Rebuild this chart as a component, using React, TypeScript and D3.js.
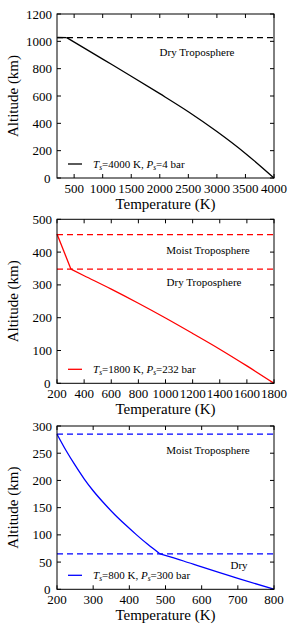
import React from 'react';
import * as d3 from 'd3';

// panel 1: Ts=4000 K (moist part, then dry part)
const hotMoist: [number, number][] = [[205, 1028], [370, 1027]];
const hotDry: [number, number][] = [
  [370, 1027], [700, 945], [1000, 870], [1500, 745], [2000, 617],
  [2500, 485], [3000, 340], [3500, 180], [4000, 0],
];
const hotXTicks = [500, 1000, 1500, 2000, 2500, 3000, 3500, 4000];
const hotYTicks = [0, 200, 400, 600, 800, 1000, 1200];
const hotLevels = [1027];

// panel 2: Ts=1800 K
const warmMoist: [number, number][] = [[200, 455], [303, 348]];
const warmDry: [number, number][] = [
  [303, 348], [400, 328], [600, 287], [800, 244], [1000, 199],
  [1200, 152], [1400, 104], [1600, 53], [1800, 0],
];
const warmXTicks = [200, 400, 600, 800, 1000, 1200, 1400, 1600, 1800];
const warmYTicks = [0, 100, 200, 300, 400, 500];
const warmLevels = [453, 348];

// panel 3: Ts=800 K
const coolMoist: [number, number][] = [
  [200, 285], [225, 255], [250, 228], [275, 203], [300, 181], [330, 158],
  [360, 137], [390, 118], [420, 100], [450, 83], [485, 65],
];
const coolDry: [number, number][] = [[485, 65], [550, 52], [600, 41], [700, 20], [800, 0]];
const coolXTicks = [200, 300, 400, 500, 600, 700, 800];
const coolYTicks = [0, 50, 100, 150, 200, 250, 300];
const coolLevels = [285, 65];

const FONT = "'Liberation Serif', 'DejaVu Serif', 'Times New Roman', serif";

type Label = { text: string; x: number; y: number };

type PanelProps = {
  top: number;
  bottom: number;
  xDomain: [number, number];
  yDomain: [number, number];
  xTicks: number[];
  yTicks: number[];
  segments: [number, number][][];
  levels: number[];
  color: string;
  ts: string;
  ps: string;
  labels: Label[];
};

function Panel(p: PanelProps) {
  const left = 57;
  const right = 274;
  const x = d3.scaleLinear().domain(p.xDomain).range([left, right]);
  const y = d3.scaleLinear().domain(p.yDomain).range([p.bottom, p.top]);
  const line = d3.line<[number, number]>()
    .x(d => x(d[0]))
    .y(d => y(d[1]))
    .curve(d3.curveMonotoneX);
  const tl = 4;
  const legY = p.bottom - 14;
  return (
    <g style={{ fontFamily: FONT }} fill="#000">
      {p.levels.map((lv, i) => (
        <line key={'lv' + i} x1={left} x2={right} y1={y(lv)} y2={y(lv)}
          stroke={p.color} strokeWidth={1.3} strokeDasharray="6,4" />
      ))}
      {p.segments.map((s, i) => (
        <path key={'s' + i} d={line(s) || ''} fill="none" stroke={p.color} strokeWidth={1.3} />
      ))}
      <rect x={left} y={p.top} width={right - left} height={p.bottom - p.top}
        fill="none" stroke="#000" strokeWidth={1} />
      {p.xTicks.map(t => (
        <g key={'x' + t}>
          <line x1={x(t)} x2={x(t)} y1={p.bottom} y2={p.bottom - tl} stroke="#000" />
          <line x1={x(t)} x2={x(t)} y1={p.top} y2={p.top + tl} stroke="#000" />
          <text x={x(t)} y={p.bottom + 14.5} textAnchor="middle" fontSize={13}>{t}</text>
        </g>
      ))}
      {p.yTicks.map(t => (
        <g key={'y' + t}>
          <line x1={left} x2={left + tl} y1={y(t)} y2={y(t)} stroke="#000" />
          <line x1={right} x2={right - tl} y1={y(t)} y2={y(t)} stroke="#000" />
          <text x={t === 0 ? 50.5 : 52} y={y(t)} dy="0.35em" textAnchor="end" fontSize={13}>{t}</text>
        </g>
      ))}
      {p.labels.map((l, i) => (
        <text key={'l' + i} x={l.x} y={l.y} textAnchor="middle" fontSize={11}>{l.text}</text>
      ))}
      <line x1={68} x2={82} y1={legY} y2={legY} stroke={p.color} strokeWidth={1.3} />
      <text x={93} y={legY} dy="0.35em" fontSize={11}>
        <tspan fontStyle="italic">T</tspan>
        <tspan fontSize={7.5} fontStyle="italic" dy={2}>s</tspan>
        <tspan dy={-2}>{'=' + p.ts + ' K, '}</tspan>
        <tspan fontStyle="italic">P</tspan>
        <tspan fontSize={7.5} fontStyle="italic" dy={2}>s</tspan>
        <tspan dy={-2}>{'=' + p.ps + ' bar'}</tspan>
      </text>
      <text x={(left + right) / 2} y={p.bottom + 31} textAnchor="middle" fontSize={15}>Temperature (K)</text>
      <text transform={`translate(18,${(p.top + p.bottom) / 2}) rotate(-90)`}
        textAnchor="middle" fontSize={15}>Altitude (km)</text>
    </g>
  );
}

export default function App() {
  return (
    <svg width={295} height={633} style={{ position: 'absolute', left: 0, top: 0, background: '#fff' }}>
      <Panel top={14} bottom={178} xDomain={[200, 4000]} yDomain={[0, 1200]}
        xTicks={hotXTicks} yTicks={hotYTicks} segments={[hotMoist, hotDry]} levels={hotLevels}
        color="#000" ts="4000" ps="4"
        labels={[{ text: 'Dry Troposphere', x: 197, y: 56 }]} />
      <Panel top={219.3} bottom={383.3} xDomain={[200, 1800]} yDomain={[0, 500]}
        xTicks={warmXTicks} yTicks={warmYTicks} segments={[warmMoist, warmDry]} levels={warmLevels}
        color="#ff0000" ts="1800" ps="232"
        labels={[{ text: 'Moist Troposphere', x: 208, y: 253.5 }, { text: 'Dry Troposphere', x: 204, y: 286 }]} />
      <Panel top={426} bottom={589.3} xDomain={[200, 800]} yDomain={[0, 300]}
        xTicks={coolXTicks} yTicks={coolYTicks} segments={[coolMoist, coolDry]} levels={coolLevels}
        color="#0000ff" ts="800" ps="300"
        labels={[{ text: 'Moist Troposphere', x: 208, y: 453.5 }, { text: 'Dry', x: 239, y: 568.5 }]} />
    </svg>
  );
}
